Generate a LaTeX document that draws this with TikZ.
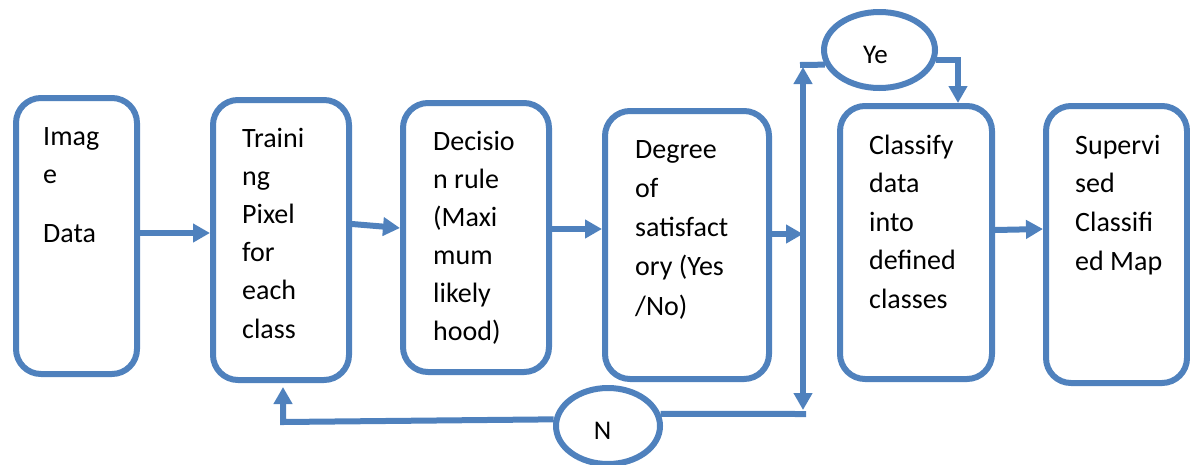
\documentclass[tikz,border=0pt]{standalone}
\usepackage{fontspec}
\setmainfont{Carlito}
\usetikzlibrary{arrows.meta,shapes.geometric,calc}
\definecolor{wblue}{HTML}{4F81BD}
\newcommand\mylines[2]{\fontsize{28}{#1}\selectfont\begin{tabular}[t]{@{}l@{}}#2\end{tabular}}
\begin{document}
\begin{tikzpicture}[x=1pt,y=-1pt,
  box/.style={draw=wblue,line width=6pt,rounded corners=25pt,inner sep=0pt,fill=white},
  oval/.style={ellipse,draw=wblue,line width=6pt,inner sep=0pt,fill=white},
  txt/.style={anchor=base west,inner sep=0pt},
  lbl/.style={anchor=base,inner sep=0pt,font=\fontsize{27}{32}\selectfont},
  conn/.style={draw=wblue,line width=6pt},
  arr/.style={conn,-{Triangle[length=17pt,width=18pt]}}]
\useasboundingbox (0,0) rectangle (1190,464);

% boxes
\node[box,minimum width=121pt,minimum height=276pt] (b1) at (76.5,236) {};
\node[box,minimum width=136pt,minimum height=280pt] (b2) at (281,240) {};
\node[box,minimum width=146pt,minimum height=269pt] (b3) at (476,237.5) {};
\node[box,minimum width=164pt,minimum height=268pt] (b4) at (687,245) {};
\node[box,minimum width=152pt,minimum height=273pt] (b5) at (916,242.5) {};
\node[box,minimum width=141pt,minimum height=277pt] (b6) at (1116.5,244.5) {};

% ellipses
\node[oval,minimum width=111pt,minimum height=76pt] (ye) at (879.5,50) {};
\node[oval,minimum width=104pt,minimum height=76pt] (n) at (608,426) {};
\node[lbl] (yet) at (875.5,63) {Ye};
\node[lbl] (nt) at (602.5,439) {N};

% texts
\node[txt] (t1) at (43,145) {\mylines{38pt}{Imag\\e\\[21pt]Data}};
\node[txt] (t2) at (242,147) {\mylines{38.2pt}{Traini\\ng\\Pixel\\for\\each\\class}};
\node[txt] (t3) at (433,150) {\mylines{38pt}{Decisio\\n rule\\(Maxi\\mum\\likely\\hood)}};
\node[txt] (t4) at (635,158) {\mylines{39.25pt}{Degree\\of\\satisfact\\ory (Yes\\/No)}};
\node[txt] (t5) at (869,154) {\mylines{38.5pt}{Classify\\data\\into\\defined\\classes}};
\node[txt] (t6) at (1075,154) {\mylines{38.7pt}{Supervi\\sed\\Classifi\\ed Map}};

% junction
\coordinate (J) at (803,234);
\coordinate (Jt) at (803,67);
\coordinate (Jb) at (803,410);

% connectors
\draw[arr] (b1.east |- 0,233) -- (b2.west |- 0,233);
\draw[arr] (b2.east |- 0,224) -- (b3.west |- 0,228);
\draw[arr] (b3.east |- 0,229) -- (b4.west |- 0,229);
\draw[arr] (b4.east |- 0,234) -- (J);
\draw[arr] (J) -- (Jt);
\draw[arr] (J) -- (Jb);
\draw[arr] (b5.east |- 0,230) -- (b6.west |- 0,229);
\draw[conn] (800,65) -- (ye.195);
\draw[arr] (ye.-10) -| (958,0 |- b5.north);
\draw[conn] (n.13) -- (806,414);
\draw[arr] (n.173) -- (283,422) -- ($(283,0 |- b2.south)+(0,4)$);
\end{tikzpicture}
\end{document}
